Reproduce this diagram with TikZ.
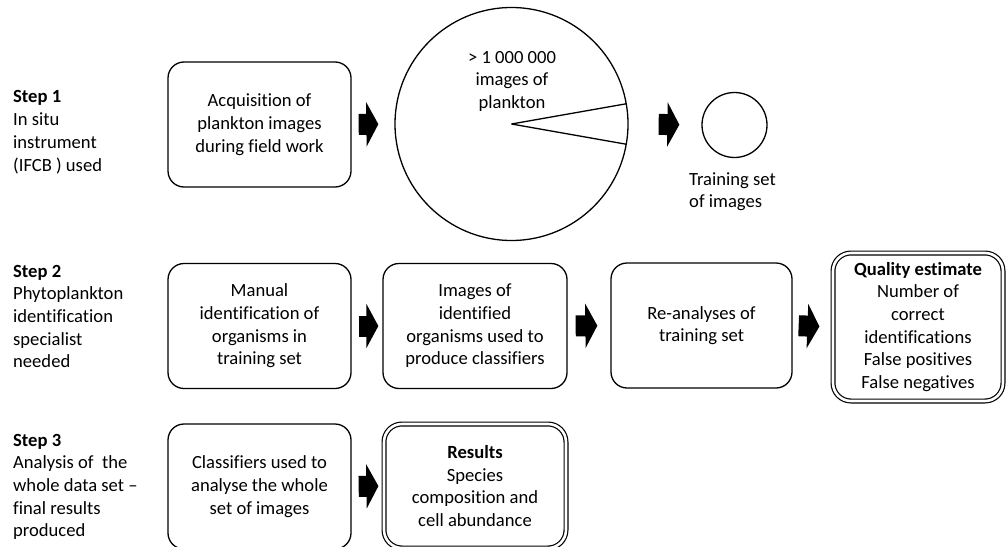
\documentclass[tikz,border=0pt]{standalone}
\usepackage{fontspec}
\setmainfont{Carlito}[Ligatures={TeX,NoCommon}]
\usepackage{tikz}
\usetikzlibrary{arrows.meta}

\begin{document}
\begin{tikzpicture}[x=1pt,y=-1pt,
  every node/.append style={font=\fontsize{18.6}{22.7}\selectfont,inner sep=0pt},
  box/.style={draw,line width=1.3pt,rounded corners=16pt,align=center,
    minimum width=183pt,minimum height=125pt},
  result/.style={box,double,double distance=2.6pt,line width=1.2pt,rounded corners=18pt},
  blockarrow/.style={-{Triangle[length=12pt,width=44pt]},line width=21pt}]
  \tikzstyle{steptext} = [align=left,anchor=base west]
  \tikzstyle{pool} = [draw,circle,line width=1.3pt]
  \useasboundingbox (0,0) rectangle (1006,546);
  % step 1
  \node (1_0) [steptext] at (13,171) {\textbf{Step 1}\\In situ\\instrument\\(IFCB ) used};
  \node (1_1) [box] at (259.5,124.5) {Acquisition of\\plankton images\\during field work};
  \node (1_2) [pool,minimum size=233pt] at (511.5,124) {};
  \node (1_5) [align=center,anchor=base] at (512,108.4) {> 1 000 000\\images of\\plankton};
  \node (1_3) [pool,minimum size=65pt] at (734.5,125) {};
  \node (1_4) [steptext] at (689,207.7) {Training set\\of images};
  \draw[line width=1.3pt] (1_2.center) -- (1_2.10);
  \draw[line width=1.3pt] (1_2.center) -- (1_2.-10);
  \draw[blockarrow,shorten <=7pt,shorten >=16pt] (1_1.east) -- (1_2.west);
  \draw[blockarrow,shorten <=30pt,shorten >=22pt] (1_2.east) -- (1_3.west);
  % step 2
  \node (2_0) [steptext] at (13,367.8) {\textbf{Step 2}\\Phytoplankton\\identification\\specialist\\needed};
  \node (2_1) [box] at (259.5,326) {Manual\\identification of\\organisms in\\training set};
  \node (2_2) [box,minimum width=184pt] at (475,326) {Images of\\identified\\organisms used to\\produce classifiers};
  \node (2_3) [box,minimum width=181pt] at (701.5,325.5) {Re-analyses of\\training set};
  \node (2_4) [result,minimum width=170pt,minimum height=148pt] at (918,327)
    {\textbf{Quality estimate}\\Number of\\correct\\identifications\\False positives\\False negatives};
  \draw[blockarrow,shorten <=7pt,shorten >=4pt] (2_1.east) -- (2_2.west);
  \draw[blockarrow,shorten <=8pt,shorten >=13pt] (2_2.east) -- (2_3.west);
  \draw[blockarrow,shorten <=6pt,shorten >=13pt] (2_3.east) -- (2_4.west);
  % step 3
  \node (3_0) [steptext] at (13,536.8) {\textbf{Step 3}\\Analysis of\ \ the\\whole data set –\\final results\\produced};
  \node (3_1) [box] at (259.5,486.5) {Classifiers used to\\analyse the whole\\set of images};
  \node (3_2) [result,minimum width=182pt,minimum height=124pt] at (475,486)
    {\textbf{Results}\\Species\\composition and\\cell abundance};
  \draw[blockarrow,shorten <=7pt,shorten >=5pt] (3_1.east) -- (3_2.west);
\end{tikzpicture}
\end{document}
